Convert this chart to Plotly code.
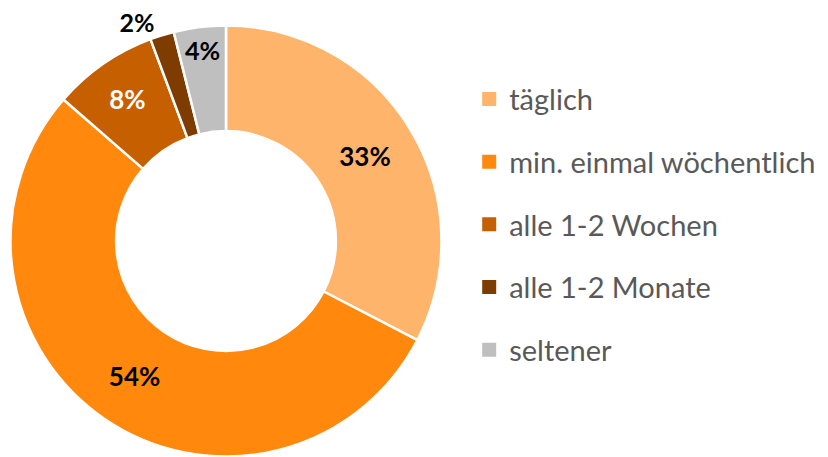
import plotly.graph_objects as go

categories = ["täglich", "min. einmal wöchentlich", "alle 1-2 Wochen", "alle 1-2 Monate", "seltener"]
values = [32.6, 53.8, 7.9, 1.8, 3.9]
colors = ["#FFB46B", "#FF880D", "#C55F00", "#7F3C00", "#BFBFBF"]
text_colors = ["black", "black", "white", "black", "black"]
text_positions = ["inside", "inside", "inside", "outside", "inside"]

FONT = "Lato"

fig = go.Figure()
fig.add_trace(go.Pie(
    labels=categories,
    values=values,
    sort=False,
    direction="clockwise",
    rotation=0,
    hole=0.51,
    marker=dict(colors=colors, line=dict(color="white", width=2.5)),
    texttemplate="%{percent:.0%}",
    textposition=text_positions,
    insidetextorientation="horizontal",
    textfont=dict(family=FONT, size=26, color=text_colors, weight="bold"),
    outsidetextfont=dict(family=FONT, size=25, color="black", weight="bold"),
    showlegend=False,
    domain=dict(x=[1.5/828, 434.5/828], y=[8.5/457, 439.5/457]),
    automargin=False,
))

for c, col in zip(categories, colors):
    fig.add_trace(go.Scatter(
        x=[None], y=[None], mode="markers", name=c,
        marker=dict(symbol="square", size=14, color=col),
        legendgroup=c, showlegend=True,
    ))

fig.update_layout(
    width=828, height=457,
    margin=dict(l=0, r=0, t=0, b=0),
    paper_bgcolor="white",
    plot_bgcolor="white",
    xaxis=dict(visible=False),
    yaxis=dict(visible=False),
    legend=dict(
        x=0.557, y=0.526, xanchor="left", yanchor="middle",
        font=dict(family=FONT, size=29, color="#595959"),
        traceorder="grouped",
        tracegroupgap=22,
        itemwidth=30,
        bgcolor="rgba(0,0,0,0)",
    ),
)

fig.write_html("out.html")
